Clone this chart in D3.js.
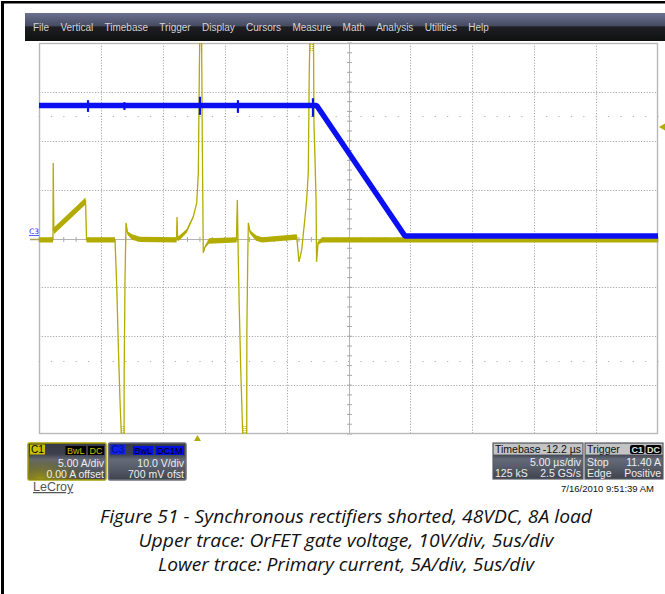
<!DOCTYPE html>
<html><head><meta charset="utf-8">
<script src="https://cdn.jsdelivr.net/npm/d3@7"></script>
<style>body{margin:0;background:#fff;} svg{display:block;}</style>
</head><body>
<svg id="c" width="665" height="594"></svg>
<script>
// ---------- data ----------
const menuItems = ["File","Vertical","Timebase","Trigger","Display","Cursors","Measure","Math","Analysis","Utilities","Help"];

// time axis (µs, relative to trigger), 5 µs/div, 10 divisions, delay -12.2 µs
const timeLeft = -12.8;
const timePerDiv = 5;
const timeDivs = 10;

// C3: OrFET gate voltage (V), 10 V/div, 700 mV offset
const gateOffset = 0.7;
const gateT = [-12.8, 9.63, 16.76, 37.2];
const gateV = [26.5, 26.5, -0.2, -0.2];
// short glitches on the gate trace: time, max, min
const glitchT  = [-8.84, -5.9, 0.2, 3.27, 9.33];
const glitchHi = [27.6, 27.2, 28.3, 27.6, 28.0];
const glitchLo = [25.2, 25.6, 24.6, 25.0, 24.2];

// C1: primary current (A), 5 A/div, 0 A offset
const currT = [-12.8, -11.67, -11.65, -11.60, -9.04, -8.96, -6.66, -6.52, -6.39, -6.26, -6.12, -5.93, -5.92, -5.85, -5.77, -5.65, -5.29, -4.64,
  -1.69, -1.65, -1.60, -1.41, -0.87, -0.34, -0.06, 0.07, 0.15, 0.19, 0.33, 0.39, 0.47, 0.61, 0.93,
  3.15, 3.22, 3.30, 3.38, 3.49, 3.68, 3.98, 3.99, 4.06, 4.11, 4.25, 4.73, 5.21,
  8.02, 8.20, 8.42, 8.69, 8.82, 8.95, 9.03, 9.09, 9.37, 9.41, 9.49, 9.58, 9.62, 9.74, 10.06, 37.2];
const currA = [-0.14, -0.14, 7.73, 0.78, 3.84, -0.14, -0.14, -4.95, -11.08, -16.5, -21, -21, -13.8, -3.97, 1.6, 0.57, 0.16, -0.09,
  -0.14, 2.21, -0.04, 0.11, 0.78, 2.21, 3.64, 6.71, 16.9, 21, 21, 10.1, -1.47, -0.86, -0.25,
  -0.14, 3.95, -2.19, -7.3, -13.1, -21, -21, -9.65, -2.19, 1.6, 0.67, 0.06, -0.14,
  0.16, -2.39, -1.17, 2.2, 3.95, 6.7, 16.9, 21, 21, 11.8, 8.35, 3.95, -2.39, -0.45, -0.14, -0.14];
const currNoise = [0.28, 0.28, 0, 0.35, 0.35, 0.28, 0.28, 0, 0, 0, 0, 0, 0, 0, 0, 0.18, 0.28, 0.28,
  0.28, 0, 0.25, 0.25, 0.2, 0.12, 0, 0, 0, 0, 0, 0, 0, 0.12, 0.28,
  0.28, 0, 0, 0, 0, 0, 0, 0, 0, 0, 0.18, 0.28, 0.28,
  0.28, 0, 0, 0, 0, 0, 0, 0, 0, 0, 0, 0, 0, 0.18, 0.28, 0.28];

const triggerLevel = 11.40;

const c1Box = {label: "C1", tags: ["BwL","DC"], lines: ["5.00 A/div", "0.00 A offset"]};
const c3Box = {label: "C3", tags: ["BwL","DC1M"], lines: ["10.0 V/div", "700 mV ofst"]};
const timebaseBox = {head: ["Timebase", "-12.2 µs"], rows: [["", "5.00 µs/div"], ["125 kS", "2.5 GS/s"]]};
const triggerBox = {head: ["Trigger"], tags: ["C1","DC"], rows: [["Stop", "11.40 A"], ["Edge", "Positive"]]};
const stamp = "7/16/2010 9:51:39 AM";
const brand = "LeCroy";
const caption = ["Figure 51 -  Synchronous rectifiers shorted, 48VDC, 8A load",
                 "Upper trace: OrFET gate voltage, 10V/div, 5us/div",
                 "Lower trace: Primary current, 5A/div, 5us/div"];

// ---------- layout ----------
const svg = d3.select("#c");
const PL = 39, PR = 658, PT = 43, PB = 434;
const YEL = "#b3ac00", BLU = "#0a10f2";

const x = d3.scaleLinear().domain([timeLeft, timeLeft + timePerDiv * timeDivs]).range([PL, PR]);
const yA = d3.scaleLinear().domain([-20, 20]).range([PB, PT]);
const yV = d3.scaleLinear().domain([-40 - gateOffset, 40 - gateOffset]).range([PB, PT]);

const defs = svg.append("defs");
defs.append("clipPath").attr("id", "plotclip").append("rect").attr("x", PL).attr("y", PT).attr("width", PR - PL).attr("height", PB - PT);
const mb = defs.append("linearGradient").attr("id", "menubar").attr("x1", 0).attr("x2", 0).attr("y1", 0).attr("y2", 1);
[[0, "#6b7190"], [0.45, "#474c63"], [0.5, "#1e1f24"], [1, "#101010"]].forEach(s => mb.append("stop").attr("offset", s[0]).attr("stop-color", s[1]));
const bg = defs.append("linearGradient").attr("id", "boxbg").attr("x1", 0).attr("x2", 0).attr("y1", 0).attr("y2", 1);
[[0, "#383b47"], [0.3, "#3d404c"], [0.45, "#656a78"], [0.7, "#555a67"], [1, "#3f434e"]].forEach(s => bg.append("stop").attr("offset", s[0]).attr("stop-color", s[1]));
const yg = defs.append("radialGradient").attr("id", "yglow").attr("cx", 0.15).attr("cy", 1).attr("r", 0.7);
[[0, "#a49c10", 0.9], [0.6, "#7a7420", 0.45], [1, "#5a5830", 0]].forEach(s => yg.append("stop").attr("offset", s[0]).attr("stop-color", s[1]).attr("stop-opacity", s[2]));

// outer frame
svg.append("rect").attr("x", 0).attr("y", 0).attr("width", 665).attr("height", 594).attr("fill", "#fff");
svg.append("line").attr("x1", 2.5).attr("x2", 2.5).attr("y1", 1).attr("y2", 594).attr("stroke", "#000").attr("stroke-width", 3);
svg.append("line").attr("x1", 1).attr("x2", 665).attr("y1", 2.3).attr("y2", 2.3).attr("stroke", "#000").attr("stroke-width", 2.6);

// menu bar
svg.append("rect").attr("x", 25).attr("y", 13).attr("width", 640).attr("height", 28).attr("fill", "url(#menubar)");
const menuG = svg.append("g").attr("font-family", "Liberation Sans, Arial, sans-serif").attr("font-size", 10).attr("fill", "#d4d4d4");
let mx = 33;
menuItems.forEach(m => {
  const t = menuG.append("text").attr("x", mx).attr("y", 31).text(m);
  mx += t.node().getComputedTextLength() + 11.3;
});

// grid
const grid = svg.append("g");
const xTicks = d3.range(timeDivs + 1).map(i => timeLeft + i * timePerDiv);
const yTicks = d3.range(-20, 20.001, 5);
grid.selectAll(".gx").data(xTicks.slice(1, -1)).join("line")
  .attr("x1", d => Math.round(x(d)) + 0.5).attr("x2", d => Math.round(x(d)) + 0.5).attr("y1", PT).attr("y2", PB)
  .attr("stroke", (d, i) => i === 4 ? "#b4b4b4" : "#a8a8a8").attr("stroke-dasharray", (d, i) => i === 4 ? null : "1.2,1.6");
grid.selectAll(".gy").data(yTicks.slice(1, -1)).join("line")
  .attr("x1", PL).attr("x2", PR).attr("y1", d => Math.round(yA(d)) + 0.5).attr("y2", d => Math.round(yA(d)) + 0.5)
  .attr("stroke", (d, i) => i === 3 ? "#b4b4b4" : "#a8a8a8").attr("stroke-dasharray", (d, i) => i === 3 ? null : "1.2,1.6");
// minor ticks on centre lines
const xc = Math.round(x(timeLeft + 5 * timePerDiv)) + 0.5, yc = Math.round(yA(0)) + 0.5;
grid.selectAll(".mx").data(d3.range(timeLeft, timeLeft + timePerDiv * timeDivs + 0.001, 1)).join("line")
  .attr("x1", d => x(d)).attr("x2", d => x(d)).attr("y1", yc - 2.5).attr("y2", yc + 2.5).attr("stroke", "#a8a8a8");
grid.selectAll(".my").data(d3.range(-20, 20.001, 1)).join("line")
  .attr("x1", xc - 2.5).attr("x2", xc + 2.5).attr("y1", d => yA(d)).attr("y2", d => yA(d)).attr("stroke", "#a8a8a8");
// quarter rows of dots
[12.5, -12.5].forEach(v => {
  grid.selectAll(null).data(d3.range(timeLeft, timeLeft + timePerDiv * timeDivs + 0.001, 1)).join("rect")
    .attr("x", d => x(d) - 0.5).attr("y", Math.round(yA(v))).attr("width", 1.2).attr("height", 1).attr("fill", "#b0b0b0");
});
// border
svg.append("rect").attr("x", PL + 0.5).attr("y", PT + 0.5).attr("width", PR - PL - 1).attr("height", PB - PT - 1)
  .attr("fill", "none").attr("stroke", "#b8b8b8").attr("stroke-width", 1.4);

// traces
const curr = currT.map((t, i) => ({t, a: currA[i], n: currNoise[i]}));
const gate = gateT.map((t, i) => ({t, v: gateV[i]}));
const glitches = glitchT.map((t, i) => ({t, hi: glitchHi[i], lo: glitchLo[i]}));
const traces = svg.append("g").attr("clip-path", "url(#plotclip)");
traces.append("path").datum(curr)
  .attr("d", d3.area().x(d => x(d.t)).y0(d => yA(d.a - d.n)).y1(d => yA(d.a + d.n)))
  .attr("fill", YEL);
traces.append("path").datum(curr)
  .attr("d", d3.line().x(d => x(d.t)).y(d => yA(d.a)))
  .attr("fill", "none").attr("stroke", YEL).attr("stroke-width", 1.3);
traces.append("path").datum(gate)
  .attr("d", d3.line().x(d => x(d.t)).y(d => yV(d.v)))
  .attr("fill", "none").attr("stroke", BLU).attr("stroke-width", 5.5).attr("stroke-linejoin", "bevel");
traces.selectAll(".gl").data(glitches).join("line")
  .attr("x1", d => x(d.t)).attr("x2", d => x(d.t)).attr("y1", d => yV(d.hi)).attr("y2", d => yV(d.lo))
  .attr("stroke", BLU).attr("stroke-width", 2.2);

// clip indicators where the current leaves the screen
const runs = [];
curr.forEach((d, i) => {
  const side = d.a > 20 ? 1 : d.a < -20 ? -1 : 0;
  if (!side) return;
  const last = runs[runs.length - 1];
  if (last && last.side === side && last.end === i - 1) { last.end = i; last.t1 = d.t; }
  else runs.push({side, start: i, end: i, t0: d.t, t1: d.t});
});
runs.forEach(r => {
  const cx = x((r.t0 + r.t1) / 2);
  const ya = r.side > 0 ? PT + 1 : PB - 8, yb = r.side > 0 ? PT + 8 : PB - 1;
  [-1, 1].forEach(o => svg.append("line").attr("x1", cx + o).attr("x2", cx + o).attr("y1", ya).attr("y2", yb)
    .attr("stroke", YEL).attr("stroke-dasharray", "1,1"));
});

// channel ground markers
svg.append("line").attr("x1", 30).attr("x2", PL).attr("y1", yA(0) + 1).attr("y2", yA(0) + 1).attr("stroke", "#a8a460").attr("stroke-width", 1.5);
svg.append("text").attr("x", 29).attr("y", yV(0) - 1).attr("font-family", "DejaVu Sans, sans-serif").attr("font-size", 7.5)
  .attr("fill", "#1a2cff").attr("text-decoration", "underline").text("C3");

// trigger markers
const tx = x(0);
svg.append("path").attr("d", `M${tx - 3.5},${PB + 7}L${tx + 3.5},${PB + 7}L${tx},${PB + 1}Z`).attr("fill", YEL);
const ty = yA(triggerLevel);
svg.append("path").attr("d", `M${PR + 7},${ty - 3.5}L${PR + 7},${ty + 3.5}L${PR + 1},${ty}Z`).attr("fill", YEL);

// info boxes
const F = "Liberation Sans, Arial, sans-serif";
function chanBox(x0, w, b, col, border, tagText, glow) {
  const g = svg.append("g");
  g.append("rect").attr("x", x0).attr("y", 443).attr("width", w).attr("height", 37).attr("fill", "url(#boxbg)")
    .attr("stroke", border).attr("stroke-width", 1.5).attr("rx", 1.5);
  if (glow) g.append("rect").attr("x", x0 + 1).attr("y", 444).attr("width", w - 2).attr("height", 35).attr("fill", "url(#yglow)");
  g.append("rect").attr("x", x0 + 2).attr("y", 444.5).attr("width", 15).attr("height", 10).attr("fill", col);
  g.append("text").attr("x", x0 + 3).attr("y", 453).attr("font-family", F).attr("font-size", 10).attr("fill", glow ? "#000" : "#001080").text(b.label);
  let rx = x0 + w - 2;
  b.tags.slice().reverse().forEach(tg => {
    const t = g.append("text").attr("y", 453.5).attr("font-family", F).attr("font-size", 9).attr("fill", tagText).text(tg);
    const tw = t.node().getComputedTextLength() + 3;
    g.insert("rect", "text:last-of-type").attr("x", rx - tw).attr("y", 446).attr("width", tw).attr("height", 9).attr("fill", glow ? "#000" : "#0010e0");
    t.attr("x", rx - tw + 1.5).raise();
    rx -= tw + 2;
  });
  b.lines.forEach((l, i) => g.append("text").attr("x", x0 + w - 2).attr("y", 467 + i * 11).attr("text-anchor", "end")
    .attr("font-family", F).attr("font-size", 10.5).attr("fill", "#eeeeee").text(l));
}
chanBox(28, 78, c1Box, "#c8c000", "#a8a000", "#c8c000", true);
chanBox(108.5, 77.5, c3Box, "#1020f0", "#6c707a", "#000", false);

function infoBox(x0, w, b) {
  const g = svg.append("g");
  g.append("rect").attr("x", x0).attr("y", 443).attr("width", w).attr("height", 36).attr("fill", "url(#boxbg)").attr("stroke", "#5a5e68").attr("stroke-width", 1.2);
  g.append("rect").attr("x", x0 + 0.6).attr("y", 443.6).attr("width", w - 1.2).attr("height", 11).attr("fill", "#c4c4c4");
  g.append("text").attr("x", x0 + 2).attr("y", 453).attr("font-family", F).attr("font-size", 10.5).attr("fill", "#111").text(b.head[0]);
  if (b.head[1]) g.append("text").attr("x", x0 + w - 2).attr("y", 453).attr("text-anchor", "end").attr("font-family", F).attr("font-size", 10.5).attr("fill", "#111").text(b.head[1]);
  if (b.tags) {
    let rx = x0 + w - 1.5;
    b.tags.slice().reverse().forEach(tg => {
      const t = g.append("text").attr("y", 452.5).attr("font-family", F).attr("font-size", 9).attr("font-weight", "bold").attr("fill", "#e0e0e0").text(tg);
      const tw = t.node().getComputedTextLength() + 3;
      g.insert("rect", "text:last-of-type").attr("x", rx - tw).attr("y", 445).attr("width", tw).attr("height", 9).attr("rx", 2).attr("fill", "#000");
      t.attr("x", rx - tw + 1.5).raise();
      rx -= tw + 1;
    });
  }
  b.rows.forEach((r, i) => {
    const yy = 466 + i * 11;
    if (r[0]) g.append("text").attr("x", x0 + 2).attr("y", yy).attr("font-family", F).attr("font-size", 10.5).attr("fill", "#eeeeee").text(r[0]);
    g.append("text").attr("x", x0 + w - 2).attr("y", yy).attr("text-anchor", "end").attr("font-family", F).attr("font-size", 10.5).attr("fill", "#eeeeee").text(r[1]);
  });
}
infoBox(493, 90, timebaseBox);
infoBox(585, 78, triggerBox);

svg.append("text").attr("x", 654).attr("y", 492).attr("text-anchor", "end").attr("font-family", F).attr("font-size", 9.5).attr("fill", "#111").text(stamp);
svg.append("text").attr("x", 33).attr("y", 491).attr("font-family", F).attr("font-size", 12.5).attr("fill", "#555").attr("text-decoration", "underline").text(brand);

// caption
const capW = [492, 415, 376];
const capG = svg.append("g").attr("font-family", "Liberation Sans Narrow, Open Sans, sans-serif").attr("font-style", "italic").attr("font-size", 18.5).attr("fill", "#111");
caption.forEach((c, i) => capG.append("text").attr("x", 346).attr("y", 523 + i * 24).attr("text-anchor", "middle")
  .attr("textLength", capW[i]).attr("lengthAdjust", "spacingAndGlyphs").text(c));
</script>
</body></html>
